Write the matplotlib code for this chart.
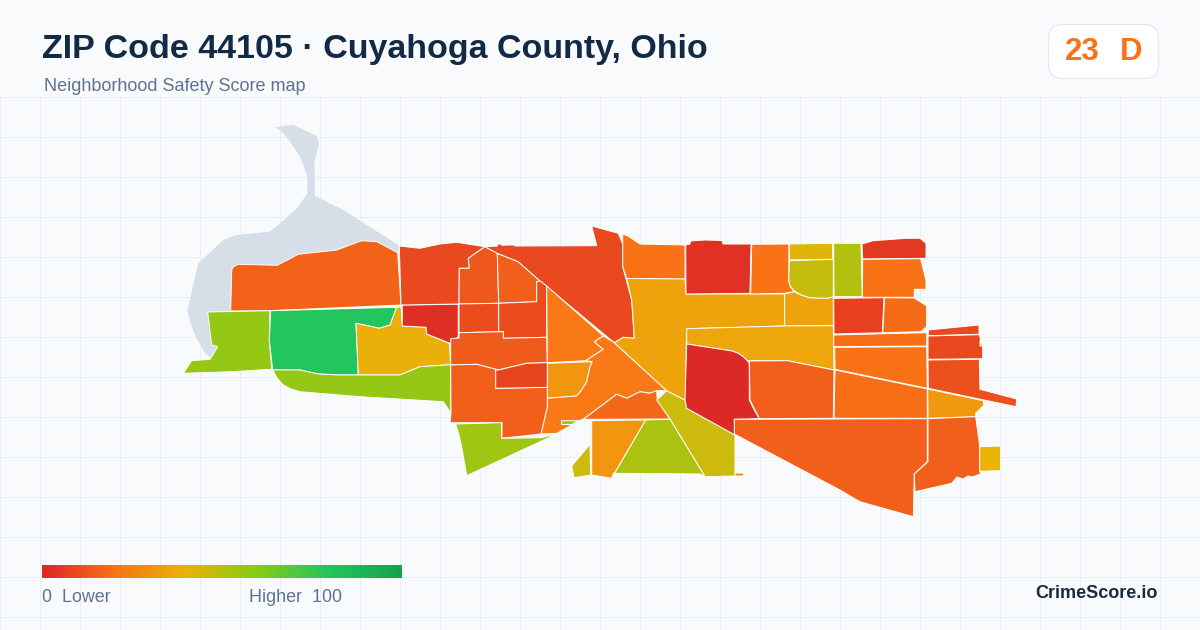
import matplotlib
matplotlib.use("Agg")
import matplotlib.pyplot as plt
import numpy as np
from matplotlib.colors import LinearSegmentedColormap, Normalize
from matplotlib.patches import Polygon, FancyBboxPatch

TITLE = "ZIP Code 44105 · Cuyahoga County, Ohio"
SUBTITLE = "Neighborhood Safety Score map"
SCORE_NUMBER = "23"
SCORE_GRADE = "D"
LEGEND_LOW = "0  Lower"
LEGEND_HIGH = "Higher  100"
BRAND = "CrimeScore.io"

SCALE_STOPS = [0.0, 0.2, 0.4, 0.6, 0.8, 1.0]
SCALE_COLORS = ["#dc2626", "#f97316", "#eab308", "#84cc16", "#22c55e", "#16a34a"]

WATER = [(275.3,127.3),(293,124.7),(317,136),(319,145),(314.3,161.7),(315,196),(343.3,210),(398.3,245),
         (400,300),(218,312),(217.7,346.7),(211.7,358.3),(205,353.3),(193.3,331.7),(187.3,310.7),(198.3,263.3),
         (223.3,240),(236.7,235),(270,231.7),(284,220),(296.7,208.3),(307.3,194),(307.3,176.7),(304,167),(300,156.7),(293,146),(286.7,136.7),(281,131)]

TRACTS = [
 (16,[(231.7,270),(233.3,266.7),(238.3,264.3),(277.3,265.3),(298.3,254.3),(336.7,250),(361.7,240.7),(376.7,241.7),(397.7,252.7),(401,305),(270,310.7),(230.7,311)]),
 (57,[(207.7,312),(270,310.7),(269.3,340),(271.7,369.3),(259.3,370),(231.7,371.7),(183.3,373.3),(191.7,360.7),(210,359.3),(217.7,346.7),(211.7,345)]),
 (80,[(270.7,310.7),(396.7,307.3),(390,325),(379.3,328.3),(356,323.3),(358.3,375),(340,375),(318.3,374),(300,370),(272.7,370),(269.3,340)]),
 (39,[(396.7,307.3),(401,306.7),(402.3,326),(426,327.3),(426.7,334),(449.3,343.3),(450.7,364.7),(420,366.7),(400,375),(358.3,375),(356,323.3),(379.3,328.3),(390,325)]),
 (57,[(272.7,370),(300,370),(318.3,374),(340,375),(400,375),(420,366.7),(450.7,364.7),(451,413.3),(443.3,401.7),(360,396.7),(300,391.7),(291,389),(283.3,385),(277,378)]),
 (2,[(402.3,305),(458.3,304.3),(458.3,336.7),(450,343.3),(426.7,334),(426,327.3),(402.3,326)]),
 (9,[(399.3,246),(420,248.3),(440,244),(456.7,242.3),(485,246.7),(468.3,258.3),(469.3,268.3),(459.3,268.3),(459,304),(401,305)]),
 (13,[(485,246.7),(497.3,253.3),(498.7,303.3),(459,304),(459.3,268.3),(469.3,268.3),(468.3,258.3)]),
 (15,[(497.3,253.3),(518.3,261.7),(540,281),(536.7,281.7),(536.7,301.7),(498.7,303.3)]),
 (9,[(485,246.7),(497.5,246),(498.3,243.3),(502.7,245.3),(508.3,245),(514,245),(515,246),(596.7,245.7),(591.7,226),(618.3,233.3),(622.7,244),(622.7,266.7),(631.7,300),(634.3,338.3),(623.3,337.3),(614.3,342.7),(540,281),(518.3,261.7),(497.3,253.3)]),
 (10,[(459,304),(498.7,303.3),(498.7,331.7),(459,332.7)]),
 (10,[(498.7,303.3),(536.7,301.7),(536.7,281.7),(540,281),(546.7,286),(546.7,337.3),(503.3,338.3),(503.3,331.7),(498.7,331.7)]),
 (14,[(450.7,338.7),(459,338),(459,332.7),(503.3,331.7),(503.3,338.3),(546.7,337.3),(547.3,362.7),(526.7,363.3),(498.3,370),(476.7,364.3),(450.7,365)]),
 (22,[(546.7,286),(603.3,336),(594.3,341.7),(603.3,349.3),(585.7,360.7),(547.3,362.7)]),
 (31,[(547.3,363.3),(592.3,361.7),(590,366.7),(586.7,381.7),(581,391),(576.7,396),(547.3,398.3)]),
 (22,[(603.3,336),(614.3,342.7),(666.7,390.7),(656.7,390.7),(650,393.3),(640,391.7),(626.7,398.3),(616.7,394.3),(583.3,419.3),(578,421),(571.7,425),(556.7,433.3),(541,434),(547.3,406.7),(547.3,398.3),(576.7,396),(581,391),(586.7,381.7),(590,366.7),(592.3,361.7),(585.7,360.7),(603.3,349.3),(594.3,341.7)]),
 (17,[(583.3,419.3),(616.7,394.3),(626.7,398.3),(640,391.7),(650,393.3),(656.7,390.7),(657.3,400),(670,419)]),
 (46,[(666.7,390.7),(685,400),(686.7,408.3),(735,435),(735,476),(705,476.7),(670,419),(656.7,400)]),
 (15,[(450.7,365),(476.7,364.3),(498.3,370),(495.7,370),(495.7,388.3),(547.3,387.3),(547.3,406.7),(541,434),(501.7,438.3),(502,422.7),(478.3,422.7),(450,422.7),(451,413.3)]),
 (8,[(495.7,370),(498.3,370),(526.7,363.3),(547.3,362.7),(547.3,387.3),(495.7,388.3)]),
 (55,[(455.7,424),(501.7,422.7),(501.7,438.3),(541,437.7),(556.7,434),(466.7,475.7),(461.7,446.7),(459,435)]),
 (55,[(561.7,420.7),(578,420.7),(572,424.5),(561.7,424.5)]),
 (31,[(591.7,420.7),(645.7,420),(611.7,478.3),(591.7,475)]),
 (52,[(645.7,420),(670,419.3),(705,476.7),(700,474),(613.3,473.3),(611.7,478.3)]),
 (46,[(590,444.3),(590.7,475),(574,477.7),(571.7,466)]),
 (28,[(735,473),(743,473),(744,476),(735,476)]),
 (20,[(622.7,234),(628,236),(640,244),(685,245),(685,279),(626.7,278.5),(622.7,266.7)]),
 (35,[(626.7,278.5),(685,279),(686,294),(784.7,294),(784.7,326),(686.7,328.7),(686.3,344),(685.7,398.3),(685,400),(666.7,390.7),(614.3,342.7),(623.3,337.3),(634.3,338.3),(631.7,300)]),
 (35,[(784.7,294),(794,291.7),(801,295),(810,297.7),(826.7,298.3),(833.3,296.7),(833.3,325.7),(784.7,326)]),
 (36,[(686.7,328.7),(784.7,326),(833.3,325.7),(834,370),(787.3,360.7),(747.3,360.7),(743,356.5),(738.3,353.3),(732,351),(686.7,344)]),
 (1,[(686.7,344),(732,351),(738.3,353.3),(743,356.5),(747.3,360.7),(749.3,363.3),(749.3,400),(754.3,410),(759.3,418.7),(734.3,419.3),(735,435),(686.7,408.3),(685,400)]),
 (15,[(749.3,361),(787.3,360.7),(834,370),(833.3,418.3),(759.3,418.7),(750,400)]),
 (3,[(685.7,245),(690,244),(690.5,241),(705,240),(722,240.5),(723,244),(751,244),(750,293.3),(686,294)]),
 (20,[(751.7,244.3),(789,244),(788.7,280),(790,286),(794,291.7),(784.7,293.3),(750.7,294)]),
 (42,[(789.3,244),(832.7,243.3),(832.7,259.3),(789.3,260)]),
 (47,[(789.3,260.7),(833.3,259.3),(833.3,296.7),(826.7,298.3),(810,297.7),(801,295),(794,290.7),(790,286),(788.7,280)]),
 (51,[(833.7,243.3),(861,243.3),(862.3,296.7),(834,296.7)]),
 (5,[(862,244),(873.3,240.7),(906.7,238.3),(920,238.3),(926,243.3),(926,258.3),(862.7,259)]),
 (20,[(862.7,259.3),(920.7,258.7),(926,280.7),(926,289.3),(914.3,289.3),(914.3,297.3),(862.3,297.3)]),
 (7,[(833.7,298.3),(884,297.7),(882.3,332.7),(834,334)]),
 (18,[(884.7,297.7),(914.3,298),(926.7,306),(926.7,326.7),(920.7,331.7),(882.7,332.7)]),
 (19,[(833.7,335),(926.7,332.7),(926.7,346),(833.7,346.7)]),
 (20,[(834.7,347.3),(926.7,346.7),(927.3,388.3),(835,369.3)]),
 (19,[(835,370),(927.3,389),(927.3,418.3),(834,418.3)]),
 (32,[(927.7,389),(983.3,400.7),(984,405),(975.7,413.3),(975.7,416.7),(928,418.3)]),
 (9,[(928.3,330),(979,325),(979,334.3),(928.3,335.7)]),
 (9,[(928,336),(979.3,334.7),(982.7,346.7),(982.7,358.7),(928,359.3)]),
 (11,[(928,360),(979.3,359.3),(980,389.3),(1016.7,399),(1016,406.7),(928.3,388.3)]),
 (36,[(980,340),(982.5,346),(980,346)]),
 (15,[(734.3,419.3),(927.3,418.7),(927.3,461.7),(914.3,474),(913.3,516.7),(860,501.7),(840,490),(734.3,434)]),
 (15,[(928,418.7),(975.7,416.7),(979.3,443.3),(980,472.7),(984,472.7),(972,477),(968,476),(963,479),(957,477),(951.7,483.3),(915,491.7),(914.3,474),(928,461.7)]),
 (40,[(979.7,446.7),(1000.7,446),(1000.7,470.7),(979.7,471.3)]),
]

BG = "#f8fafc"
GRID = "#e8eff3"
SLATE = "#5f7391"

cmap = LinearSegmentedColormap.from_list("score", list(zip(SCALE_STOPS, SCALE_COLORS)))
norm = Normalize(0, 100)

plt.rcParams["font.family"] = ["Liberation Sans", "DejaVu Sans"]
fig = plt.figure(figsize=(12, 6.3), dpi=100, facecolor=BG)
ax = fig.add_axes([0, 0, 1, 1])
ax.set_xlim(0, 1200)
ax.set_ylim(630, 0)
ax.axis("off")

for x in np.arange(0.0, 1200, 40):
    ax.plot([x, x], [97, 630], color=GRID, lw=0.72, zorder=1)
for y in np.arange(96.9, 630, 40):
    ax.plot([0, 1200], [y, y], color=GRID, lw=0.72, zorder=1)

ax.add_patch(Polygon(WATER, closed=True, facecolor="#d6dfe7", edgecolor="none", zorder=2))
for score, outline in TRACTS:
    ax.add_patch(Polygon(outline, closed=True, facecolor=cmap(norm(score)), edgecolor="white",
                         lw=0.7, joinstyle="round", zorder=3))

ax.text(42, 49.5, TITLE, fontsize=24.5, fontweight="bold", color="#132a47", va="center", ha="left")
ax.text(44, 86.3, SUBTITLE, fontsize=12.95, color=SLATE, va="center", ha="left")

ax.add_patch(FancyBboxPatch((1048.5+12, 24.5+12), 110-24, 54-24, boxstyle="round,pad=12,rounding_size=14",
                            facecolor="white", edgecolor="#e2e8f0", lw=0.8, zorder=2))
ax.text(1065, 52.5, SCORE_NUMBER, fontsize=22.5, fontweight="bold", color="#f97316", va="center", ha="left", zorder=3)
ax.text(1120, 52.5, SCORE_GRADE, fontsize=22.5, fontweight="bold", color="#f97316", va="center", ha="left", zorder=3)

grad = np.linspace(0, 1, 360).reshape(1, -1)
ax.imshow(grad, extent=(42, 402, 578, 565), cmap=cmap, aspect="auto", zorder=3)
ax.set_xlim(0, 1200)
ax.set_ylim(630, 0)

ax.text(42, 598, LEGEND_LOW, fontsize=12.9, color=SLATE, va="center", ha="left")
ax.text(249, 598, LEGEND_HIGH, fontsize=12.9, color=SLATE, va="center", ha="left")
ax.text(1158, 593.5, BRAND, fontsize=13, fontweight="bold", color="#1b2a41", va="center", ha="right")

fig.savefig("out.png", dpi=100, facecolor=BG)
